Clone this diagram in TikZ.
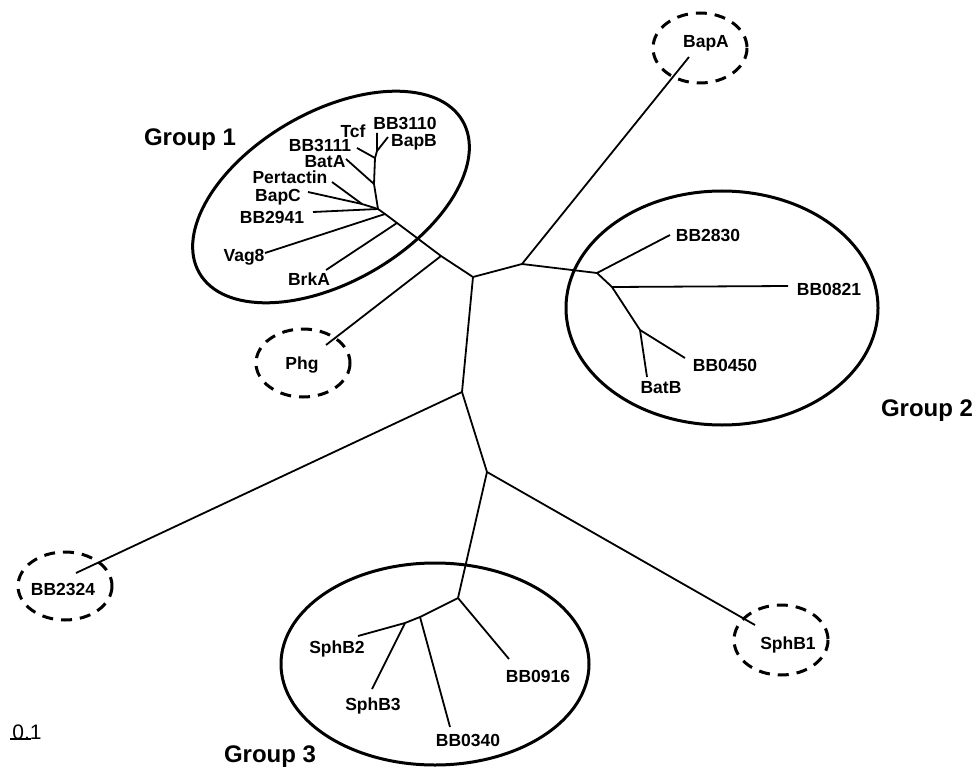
\documentclass[tikz,border=0pt]{standalone}
\usepackage{fontspec}
\setmainfont{Liberation Sans}
\tikzset{
  branch/.style={line width=1.8pt},
  grp/.style={line width=3pt},
  lone/.style={line width=3pt, dash pattern=on 11pt off 8pt},
  leaf/.style={font=\bfseries\fontsize{17.5}{20}\selectfont, inner sep=0pt},
  grouplbl/.style={font=\bfseries\fontsize{24}{28}\selectfont, inner sep=0pt},
}
\begin{document}
\begin{tikzpicture}[x=1pt,y=-1pt]
\useasboundingbox (0,0) rectangle (974,770);
% inner points of the tree
\coordinate (n1) at (473,277);
\coordinate (n2) at (522,264);
\coordinate (n3) at (597,273);
\coordinate (n4) at (612,287);
\coordinate (n5) at (640,330);
\coordinate (n6) at (462,392);
\coordinate (n7) at (487,472);
\coordinate (n8) at (458,598);
\coordinate (n9) at (420,617);
\coordinate (n10) at (405,623);
\coordinate (h1) at (378,209);
\coordinate (h2) at (385,214);
\coordinate (h3) at (397,223);
\coordinate (h4) at (441,256);
\coordinate (p1) at (362,204);
\coordinate (s1) at (374,184);
\coordinate (s2) at (375,158);
\coordinate (s3) at (377,151);
% tips
\coordinate (tTcf) at (377,133);
\coordinate (tBBa) at (388,137);
\coordinate (tBBb) at (357,148);
\coordinate (tBatA) at (346,159);
\coordinate (tPert) at (332,182);
\coordinate (tBapC) at (308,192);
\coordinate (tBBc) at (313,212);
\coordinate (tVag) at (265,253);
\coordinate (tBrkA) at (326,270);
\coordinate (tPhg) at (326,345);
\coordinate (tBapA) at (689,57);
\coordinate (tBBd) at (670,235);
\coordinate (tBBe) at (788,286);
\coordinate (tBBf) at (685,358);
\coordinate (tBatB) at (647,377);
\coordinate (tBBg) at (76,573);
\coordinate (tSphBa) at (755,625);
\coordinate (tBBh) at (509,659);
\coordinate (tBBi) at (450,727);
\coordinate (tSphBb) at (358,636);
\coordinate (tSphBc) at (372,689);
% branches
\draw[branch] (tTcf) -- (s3) -- (s2) -- (s1) -- (h1) -- (h2) -- (h3) -- (h4) -- (n1);
\draw[branch] (s3) -- (tBBa);
\draw[branch] (s2) -- (tBBb);
\draw[branch] (s1) -- (tBatA);
\draw[branch] (h1) -- (p1) -- (tPert);
\draw[branch] (p1) -- (tBapC);
\draw[branch] (h1) -- (tBBc);
\draw[branch] (h2) -- (tVag);
\draw[branch] (h3) -- (tBrkA);
\draw[branch] (h4) -- (tPhg);
\draw[branch] (n1) -- (n2) -- (n3) -- (n4) -- (n5) -- (tBatB);
\draw[branch] (n2) -- (tBapA);
\draw[branch] (n3) -- (tBBd);
\draw[branch] (n4) -- (tBBe);
\draw[branch] (n5) -- (tBBf);
\draw[branch] (n1) -- (n6) -- (tBBg);
\draw[branch] (n6) -- (n7) -- (tSphBa);
\draw[branch] (n7) -- (n8) -- (n9) -- (n10) -- (tSphBb);
\draw[branch] (n8) -- (tBBh);
\draw[branch] (n9) -- (tBBi);
\draw[branch] (n10) -- (tSphBc);
% groups
\draw[grp,shift={(331,197)},rotate=30] (0,0) ellipse [x radius=152, y radius=85];
\draw[grp] (722,308) ellipse [x radius=156, y radius=117];
\draw[grp] (435,664) ellipse [x radius=154, y radius=101];
\draw[lone] (700,48) ellipse [x radius=47, y radius=35];
\draw[lone] (303,363) ellipse [x radius=47, y radius=34];
\draw[lone] (65,586) ellipse [x radius=47, y radius=34];
\draw[lone] (781,640) ellipse [x radius=47, y radius=35];
% labels
\node[leaf] (lTcf) at (353,131) {Tcf};
\node[leaf] (lBBa) at (405,123) {BB3110};
\node[leaf] (lBapB) at (414,142) {BapB};
\node[leaf] (lBBb) at (320,145) {BB3111};
\node[leaf] (lBatA) at (325,162) {BatA};
\node[leaf] (lPert) at (290,177) {Pertactin};
\node[leaf] (lBapC) at (278,197) {BapC};
\node[leaf] (lBBc) at (272,217) {BB2941};
\node[leaf] (lVag) at (244,257) {Vag8};
\node[leaf] (lBrkA) at (309,279) {BrkA};
\node[leaf] (lPhg) at (302,365) {Phg};
\node[leaf] (lBapA) at (706,43) {BapA};
\node[leaf] (lBBd) at (708,235) {BB2830};
\node[leaf] (lBBe) at (829,289) {BB0821};
\node[leaf] (lBBf) at (725,365) {BB0450};
\node[leaf] (lBatB) at (661,388) {BatB};
\node[leaf] (lBBg) at (63,589) {BB2324};
\node[leaf] (lSphBa) at (788,645) {SphB1};
\node[leaf] (lBBh) at (538,676) {BB0916};
\node[leaf] (lBBi) at (468,740) {BB0340};
\node[leaf] (lSphBb) at (337,649) {SphB2};
\node[leaf] (lSphBc) at (373,706) {SphB3};
\node[grouplbl] (g1) at (190,140) {Group 1};
\node[grouplbl] (g2) at (927,411) {Group 2};
\node[grouplbl] (g3) at (270,757) {Group 3};
% scale
\coordinate (bar0) at (10,739);
\coordinate (bar1) at (31,739);
\draw[line width=1.3pt] (bar0) -- (bar1);
\node[anchor=base, inner sep=0pt, font=\fontsize{21}{24}\selectfont] (sc) at (27,739) {0.1};
\end{tikzpicture}
\end{document}
